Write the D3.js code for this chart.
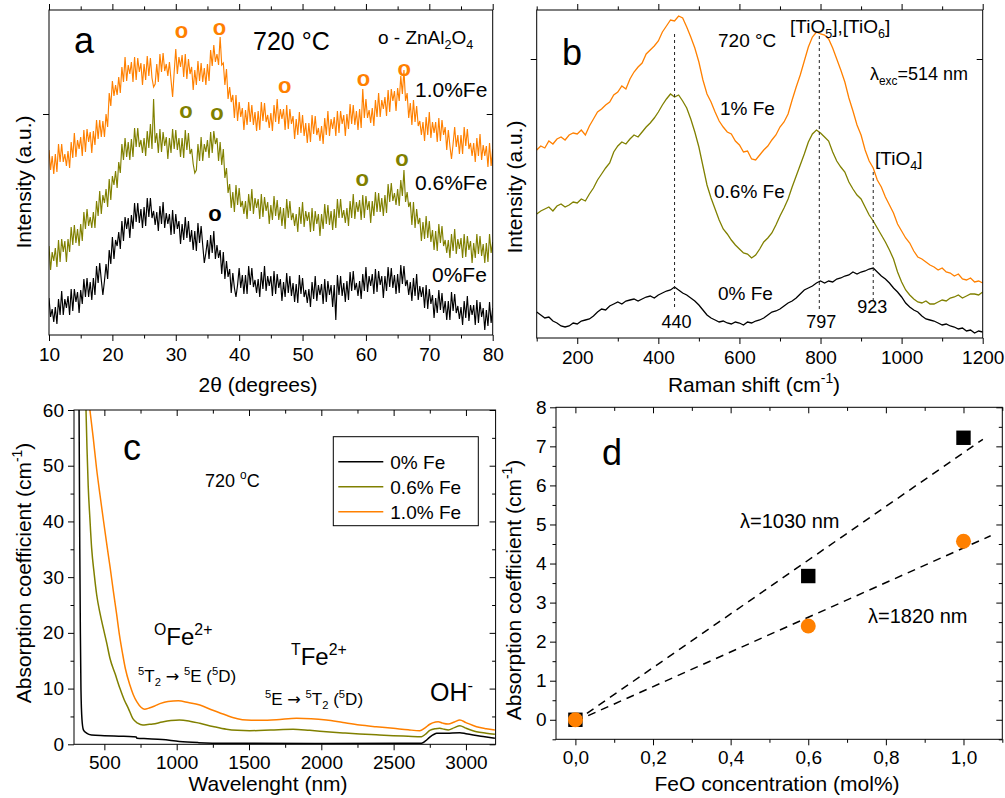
<!DOCTYPE html>
<html><head><meta charset="utf-8">
<script src="https://cdn.jsdelivr.net/npm/d3@7/dist/d3.min.js"></script>
<style>
body{margin:0;background:#fff;}
svg text{font-family:"Liberation Sans",Arial,Helvetica,sans-serif;}
</style></head><body>
<svg id="fig" width="1005" height="798"></svg>
<script>
// ---------------- DATA ----------------
// (a) XRD, 2theta grid 10..80 step 0.25 (one row per degree)
const xrdAngles = d3.range(10, 80.001, 0.25);
const xrdBlack = [
37,18,26,13, 28,11,36,20, 44,20,36,27, 39,20,46,24, 46,33,43,22,
45,31,56,38, 57,38,53,35, 57,40,69,52, 72,55,40,54, 71,56,85,71,
98,76,95,89, 103,86,114,94, 118,106,117,97, 120,106,132,113, 132,112,126,107,
128,109,137,118, 137,117,124,110, 123,104,129,111, 133,107,122,111, 121,100,125,101,
121,106,114,91, 111,95,118,97, 114,93,105,85, 104,84,112,92, 109,90,72,82,
95,76,100,82, 104,76,90,77, 85,61,83,56, 74,58,66,42, 62,47,38,50,
67,47,60,41, 60,41,69,50, 67,48,55,42, 56,38,63,46, 69,44,59,49,
59,39,64,41, 61,47,56,34, 53,38,62,42, 59,39,52,33, 51,32,60,41,
57,38,45,32, 46,28,53,36, 59,34,50,40, 51,31,56,33, 54,40,50,28,
50,15,60,40, 59,39,52,33, 54,35,63,44, 64,45,52,39, 54,36,61,44,
68,43,59,49, 61,41,66,43, 64,50,59,37, 59,44,68,48, 67,47,60,41,
61,42,70,51, 69,49,55,40, 53,34,57,39, 61,35,49,38, 48,27,50,26,
46,31,40,17, 37,22,45,25, 42,22,34,15, 34,15,43,24, 41,22,29,16,
28,10,34,17, 39,14,30,20, 30,10,35,12, 33,18,27,5, 25,9,33,12,
27];
const xrdOlive = [
89,65,83,74, 87,68,95,73, 96,83,94,73, 96,83,108,90, 110,92,106,89,
111,94,123,106, 126,109,118,107, 123,107,134,119, 144,121,140,132, 146,128,156,135,
159,150,164,147, 173,162,191,175, 197,178,193,175, 196,178,207,188, 207,188,195,182,
197,179,204,187, 211,186,236,192, 202,182,206,183, 203,189,198,176, 197,182,206,186,
205,185,197,178, 197,177,205,185, 202,181,186,171, 162,165,191,174, 198,174,191,183,
195,177,203,182, 204,191,197,174, 193,170,186,157, 167,142,151,127, 143,123,150,130,
147,128,134,121, 134,116,141,124, 146,121,137,127, 136,116,141,118, 138,124,133,111,
130,115,139,119, 135,115,128,109, 127,106,136,117, 134,115,122,109, 121,103,128,111,
133,108,124,114, 123,103,127,104, 124,111,121,99, 121,106,131,111, 130,110,124,105,
126,107,136,117, 136,117,125,112, 127,109,134,117, 141,116,133,123, 135,115,140,117,
139,125,134,112, 134,119,143,123, 142,123,137,119, 140,122,151,133, 152,134,142,130,
146,129,155,139, 165,133,143,128, 133,110,133,107, 126,111,117,94, 113,96,119,97,
114,93,105,85, 104,84,111,92, 109,89,95,82, 95,77,101,84, 106,81,96,86,
97,77,101,78, 99,85,94,72, 92,77,101,81, 99,79,91,72, 92,73,101,82,
93];
const xrdOrange = [
185,165,179,161, 181,163,191,173, 191,173,181,169, 184,167,193,177, 202,178,195,186,
198,179,205,183, 206,193,203,182, 204,190,215,196, 215,198,214,198, 221,208,242,229,
254,239,250,240, 258,242,268,253, 278,254,270,261, 273,253,278,255, 277,263,272,250,
271,255,279,259, 277,257,248,251, 271,253,281,263, 282,264,271,259, 273,255,238,263,
286,261,278,268, 280,258,281,256, 276,261,268,245, 265,250,274,254, 272,253,267,250,
271,254,285,269, 290,273,281,270, 298,270,272,250, 266,236,248,233, 240,217,240,214,
233,218,227,205, 225,210,233,213, 230,210,223,204, 224,205,233,214, 232,213,220,207,
222,204,230,213, 236,211,226,216, 226,205,230,206, 226,211,219,196, 216,200,223,202,
220,199,212,192, 212,193,220,201, 219,200,207,194, 209,191,217,200, 224,199,216,206,
218,199,224,202, 224,211,220,199, 221,206,231,211, 230,210,224,205, 226,207,246,217,
236,217,225,212, 227,209,235,218, 242,218,235,226, 238,219,245,223, 246,234,244,224,
247,234,259,241, 265,234,242,217, 232,210,235,213, 229,209,214,200, 213,194,218,200,
223,197,213,202, 213,193,217,194, 215,200,208,185, 205,189,176,191, 208,188,200,181,
200,181,208,189, 206,186,192,179, 192,173,197,179, 201,175,190,179, 189,168,192,169,
186];
const xrdLabels = ["0%Fe","0.6%Fe","1.0%Fe"];
const xrdMarkers = [ // [series, 2theta, intensity]
  [2,30.9,305],[2,36.9,308],[2,47.2,250],[2,59.6,257],[2,66.05,267],
  [1,31.6,225],[1,36.5,223],[1,59.4,157],[1,65.7,177],
  [0,36.2,122]];
const xrdXTicks = [10,20,30,40,50,60,70,80];
const xrdXMinor = [15,25,35,45,55,65,75];
const xrdYTicks = [221];

// (b) Raman, shift grid 100..1200 step 10 (one row per 100 cm-1)
const ramanShift = d3.range(100, 1200.001, 10);
const ramanBlack = [
26,23,20,21,17,15,12,11,12,15,
14,17,18,19,22,26,29,28,32,34,
36,34,37,38,39,37,39,41,42,40,
43,45,47,48,51,48,45,43,40,37,
33,28,23,20,18,16,17,15,14,16,
15,13,16,15,17,18,20,23,26,27,
29,32,35,37,40,44,48,50,52,55,
57,55,57,56,59,60,62,63,66,64,
66,67,69,70,66,62,59,55,50,46,
41,35,31,28,26,22,19,18,17,15,
13,14,12,11,9,10,7,8,5,7,
6];
const ramanOlive = [
124,127,129,131,127,132,134,131,133,136,
135,139,137,144,150,158,164,170,175,186,
192,196,194,199,203,201,206,211,215,220,
226,233,239,244,241,243,237,230,219,206,
191,172,153,140,129,118,109,104,98,93,
89,85,84,80,83,89,96,100,105,113,
122,130,139,151,162,173,184,196,204,208,
205,201,197,186,177,171,166,156,149,143,
139,131,123,117,110,103,96,88,79,66,
56,48,43,39,36,35,37,34,34,36,
38,37,40,41,43,40,42,44,44,43,
46];
const ramanOrange = [
188,192,190,197,194,199,201,198,203,205,
204,208,203,212,219,226,229,233,236,243,
246,252,249,259,266,271,275,284,288,292,
297,306,312,318,317,322,320,311,301,290,
276,258,244,236,226,217,211,206,204,197,
193,186,187,179,178,183,188,192,198,203,
211,216,224,238,251,263,277,291,301,306,
304,303,299,290,279,268,256,240,227,213,
203,188,177,170,158,151,141,133,125,114,
107,100,95,87,81,79,76,73,71,68,
70,66,65,62,64,59,58,60,56,57,
55];
const ramanPeakPos = [440, 797, 930];
const ramanPeakLabels = ["440","797","923"];
const ramanPeakLineTop = [304, 302, 166];
const ramanPeakLineBottom = [28, 27, 37];
const ramanXTicks = [200,400,600,800,1000,1200];
const ramanXMinor = [100,300,500,700,900,1100];
const ramanYTicks = [279];

// (c) absorption spectra [wavelength nm, coefficient cm-1]
const absBlack = [[325,60],[330,35],[334,20],[338,10],[345,4.5],[355,2.6],[377,2.0],[411,1.67],[500,1.55],[600,1.45],[700,1.35],[720,1.3],[725,1.1],[800,1.0],[900,0.85],[1019,0.5],[1150,0.3],[1344,0.18],[2000,0.15],[2600,0.17],[2693,0.2],[2720,0.6],[2750,1.3],[2780,1.8],[2797,1.97],[2870,2.0],[2958,2.08],[3000,1.9],[3050,1.67],[3130,1.35],[3200,1.07]];
const absOlive = [[373,60],[380,53],[388,46.5],[400,40.5],[412,35.2],[430,30.5],[447,26.8],[470,23.5],[493,20.8],[516,18.2],[539,15.4],[575,12.6],[608,10],[637,8],[665,6.5],[697,4.6],[730,3.8],[766,3.46],[800,3.55],[835,3.64],[900,4.0],[960,4.25],[1019,4.36],[1090,4.15],[1160,3.77],[1250,3.2],[1344,2.69],[1420,2.5],[1505,2.44],[1650,2.55],[1804,2.69],[1920,2.5],[2035,2.27],[2150,2.05],[2265,1.85],[2380,1.7],[2497,1.55],[2600,1.45],[2693,1.37],[2720,1.8],[2750,2.5],[2790,2.8],[2819,2.87],[2850,2.7],[2877,2.57],[2920,3.0],[2958,3.34],[3000,2.9],[3073,2.27],[3140,2.0],[3200,1.79]];
const absOrange = [[400,60],[423,55],[446,49.5],[470,44.7],[493,40.3],[516,36],[540,31.7],[562,27.5],[585,23.3],[605,19.5],[625,16.4],[645,13.6],[677,10.6],[700,8.9],[725,7.6],[755,6.6],[778,6.3],[810,6.5],[850,6.9],[884,7.3],[940,7.7],[1011,7.8],[1080,7.5],[1160,7.05],[1250,6.1],[1344,5.2],[1420,4.6],[1483,4.36],[1580,4.3],[1690,4.4],[1828,4.67],[1930,4.6],[2035,4.36],[2150,3.9],[2265,3.46],[2380,3.15],[2497,2.87],[2600,2.6],[2681,2.44],[2715,2.9],[2750,3.6],[2790,4.0],[2808,4.06],[2840,3.8],[2877,3.64],[2920,4.0],[2958,4.36],[3000,3.9],[3073,3.16],[3140,2.8],[3200,2.57]];
const absLegend = ["0% Fe","0.6% Fe","1.0% Fe"];
const absXTicks = [500,1000,1500,2000,2500,3000];
const absXMinor = [750,1250,1750,2250,2750];
const absYTicks = [0,10,20,30,40,50,60];
const absYMinor = [5,15,25,35,45,55];

// (d) absorption vs FeO
const feoConc = [0, 0.6, 1.0];
const abs1030 = [0, 3.68, 7.22];
const abs1820 = [0, 2.4, 4.57];
const fit1030 = [[0,-0.04],[1.05,7.18]];
const fit1820 = [[0,-0.04],[1.07,4.71]];
const feoXTicks = [0,0.2,0.4,0.6,0.8,1.0];
const feoXMinor = [0.1,0.3,0.5,0.7,0.9,1.1];
const feoYTicks = [0,1,2,3,4,5,6,7,8];
const feoYMinor = [-0.5,0.5,1.5,2.5,3.5,4.5,5.5,6.5,7.5];

// ---------------- DRAWING ----------------
const ORANGE="#ff8000", OLIVE="#808000", BLACK="#000000";
const COLS=[BLACK,OLIVE,ORANGE];
const FONT='"Liberation Sans",Arial,Helvetica,sans-serif';
const svg=d3.select("#fig");

function rich(g,x,y,parts,size,opt={}){
  const t=g.append("text").attr("x",x).attr("y",y).attr("font-size",size)
    .attr("text-anchor",opt.anchor||"start").attr("fill",opt.fill||"#000");
  if(opt.rotate) t.attr("transform",`rotate(-90,${x},${y})`);
  let cur=0;
  parts.forEach(p=>{
    const [s,k]=Array.isArray(p)?p:[p,null];
    const off=k==="sup"?-0.42*size:k==="sub"?0.26*size:0;
    const ts=t.append("tspan").attr("dy",off-cur).attr("font-size",(k==="sup"||k==="sub")?size*0.66:size).text(s);
    if(k==="sym") ts.attr("font-family",'"DejaVu Sans",sans-serif').attr("font-size",size*0.95);
    cur=off;
  });
  return t;
}

function panel(left,top,right,bottom,id){
  const g=svg.append("g").attr("transform",`translate(${left},${top})`);
  const w=right-left,h=bottom-top;
  svg.append("defs").append("clipPath").attr("id",id).append("rect").attr("width",w).attr("height",h);
  return {g,w,h,plot:g.append("g").attr("clip-path",`url(#${id})`)};
}

function axes(P,x,y,o){
  const g=P.g,w=P.w,h=P.h;
  const ax=g.append("g");
  ax.append("g").attr("transform",`translate(0,${h})`)
    .call(d3.axisBottom(x).tickValues(o.xMajor).tickFormat(o.xFmt||d3.format("d")).tickSize(6).tickPadding(o.xPad||7));
  if(o.xMinor) ax.append("g").attr("transform",`translate(0,${h})`).call(d3.axisBottom(x).tickValues(o.xMinor).tickFormat("").tickSize(3.5));
  const ts=o.topOut?6:-6;
  ax.append("g").call(d3.axisTop(x).tickValues(o.xMajor).tickFormat("").tickSize(ts));
  if(o.xMinor) ax.append("g").call(d3.axisTop(x).tickValues(o.xMinor).tickFormat("").tickSize(ts*0.6));
  ax.append("g").call(d3.axisLeft(y).tickValues(o.yMajor).tickFormat(o.yFmt||"").tickSize(6).tickPadding(o.yPad||4));
  if(o.yMinor) ax.append("g").call(d3.axisLeft(y).tickValues(o.yMinor).tickFormat("").tickSize(3.5));
  ax.append("g").attr("transform",`translate(${w},0)`).call(d3.axisRight(y).tickValues(o.yMajor).tickFormat("").tickSize(-6));
  if(o.yMinor) ax.append("g").attr("transform",`translate(${w},0)`).call(d3.axisRight(y).tickValues(o.yMinor).tickFormat("").tickSize(-3.5));
  ax.selectAll(".domain").remove();
  ax.selectAll("g").attr("font-family",FONT);
  ax.selectAll(".tick text").attr("font-size",19).attr("fill","#000");
  ax.selectAll(".tick line").attr("stroke","#000");
  g.append("rect").attr("width",w).attr("height",h).attr("fill","none").attr("stroke","#000").attr("stroke-width",1);
}

// ---- Panel a ----
(function(){
  const P=panel(49,10,492.7,335,"clipA");
  const x=d3.scaleLinear().domain([10,80]).range([0,P.w]);
  const y=d3.scaleLinear().domain([0,325]).range([P.h,0]);
  const line=d3.line().x((d,i)=>x(xrdAngles[i])).y(d=>y(d));
  [xrdBlack,xrdOlive,xrdOrange].forEach((s,k)=>{
    P.plot.append("path").datum(s).attr("d",line).attr("fill","none").attr("stroke",COLS[k]).attr("stroke-width",1.15);
  });
  xrdMarkers.forEach(m=>{
    P.g.append("text").attr("x",x(m[1])).attr("y",y(m[2])).attr("text-anchor","middle")
      .attr("dominant-baseline","central").attr("font-family",'"Liberation Serif","Times New Roman",serif')
      .attr("font-weight","bold").attr("font-size",22).attr("fill",COLS[m[0]]).text("o");
  });
  axes(P,x,y,{xMajor:xrdXTicks,xMinor:xrdXMinor,yMajor:xrdYTicks,topOut:true});
  const g=svg;
  rich(g,74,53,["a"],36);
  rich(g,253,50,["720 °C"],25);
  rich(g,378,44,["o - ZnAl",["2","sub"],"O",["4","sub"]],19);
  rich(g,415,97,[xrdLabels[2]],21);
  rich(g,415,190,[xrdLabels[1]],21);
  rich(g,432,282,[xrdLabels[0]],21);
  rich(g,258,392,["2θ (degrees)"],21,{anchor:"middle"});
  rich(g,31,182,["Intensity (a.u.)"],21,{anchor:"middle",rotate:true});
})();

// ---- Panel b ----
(function(){
  const P=panel(536.7,10,982.7,338,"clipB");
  const x=d3.scaleLinear().domain([100,1200]).range([0,P.w]);
  const y=d3.scaleLinear().domain([0,328]).range([P.h,0]);
  const line=d3.line().x((d,i)=>x(ramanShift[i])).y(d=>y(d));
  [ramanBlack,ramanOlive,ramanOrange].forEach((s,k)=>{
    P.plot.append("path").datum(s).attr("d",line).attr("fill","none").attr("stroke",COLS[k]).attr("stroke-width",1.3);
  });
  ramanPeakPos.forEach((p,i)=>{
    P.g.append("line").attr("x1",x(p)).attr("x2",x(p)).attr("y1",y(ramanPeakLineTop[i])).attr("y2",y(ramanPeakLineBottom[i]))
      .attr("stroke","#222").attr("stroke-width",1).attr("stroke-dasharray","3,3");
  });
  const lblY=[328,328,313];
  ramanPeakPos.forEach((p,i)=>{
    rich(svg,536.7+x(p)+(i===2?-1:2),lblY[i],[ramanPeakLabels[i]],18,{anchor:"middle"});
  });
  axes(P,x,y,{xMajor:ramanXTicks,xMinor:ramanXMinor,yMajor:ramanYTicks,topOut:true});
  const g=svg;
  rich(g,562,65,["b"],36);
  rich(g,718,47,["720 °C"],19);
  rich(g,790,33,["[TiO",["5","sub"],"],[TiO",["6","sub"],"]"],19);
  rich(g,870,80,["λ",["exc","sub"],"=514 nm"],18);
  rich(g,720,115,["1% Fe"],19);
  rich(g,714,198,["0.6% Fe"],19);
  rich(g,875,165,["[TiO",["4","sub"],"]"],19);
  rich(g,718,300,["0% Fe"],19);
  rich(g,754,392,["Raman shift (cm",["-1","sup"],")"],21,{anchor:"middle"});
  rich(g,522,187,["Intensity (a.u.)"],21,{anchor:"middle",rotate:true});
})();

// ---- Panel c ----
(function(){
  const P=panel(74,410,495.6,744.3,"clipC");
  const x=d3.scaleLinear().domain([290,3205]).range([0,P.w]);
  const y=d3.scaleLinear().domain([0,60]).range([P.h,0]);
  const line=d3.line().x(d=>x(d[0])).y(d=>y(d[1])).curve(d3.curveMonotoneX);
  [absBlack,absOlive,absOrange].forEach((s,k)=>{
    P.plot.append("path").datum(s).attr("d",line).attr("fill","none").attr("stroke",COLS[k]).attr("stroke-width",1.5);
  });
  axes(P,x,y,{xMajor:absXTicks,xMinor:absXMinor,yMajor:absYTicks,yMinor:absYMinor,yFmt:d3.format("d"),xPad:5,topOut:false});
  const L=svg.append("g").attr("transform","translate(333.3,436.7)");
  L.append("rect").attr("width",145).attr("height",89).attr("fill","#fff").attr("stroke","#000").attr("stroke-width",1);
  absLegend.forEach((t,i)=>{
    L.append("line").attr("x1",5).attr("x2",50).attr("y1",25+25*i).attr("y2",25+25*i).attr("stroke",COLS[i]).attr("stroke-width",1.5);
    rich(L,57,32+25*i,[t],19);
  });
  const g=svg;
  rich(g,123,460,["c"],36);
  rich(g,205,487,["720 ",["o","sup"],"C"],18);
  rich(g,154,645,[["O","sup"],"Fe",["2+","sup"]],24);
  rich(g,138,682,[["5","sup"],"T",["2","sub"]," ",["→","sym"]," ",["5","sup"],"E (",["5","sup"],"D)"],17);
  rich(g,291,665,[["T","sup"],"Fe",["2+","sup"]],24);
  rich(g,265,705,[["5","sup"],"E ",["→","sym"]," ",["5","sup"],"T",["2","sub"]," (",["5","sup"],"D)"],17);
  rich(g,430,701,["OH",["-","sup"]],25);
  rich(g,268,791,["Wavelenght (nm)"],21,{anchor:"middle"});
  rich(g,31,573,["Absorption coefficient (cm",["-1","sup"],")"],21,{anchor:"middle",rotate:true});
})();

// ---- Panel d ----
(function(){
  const P=panel(556,407.3,1002.3,739.3,"clipD");
  const x=d3.scaleLinear().domain([-0.05,1.1]).range([0,P.w]);
  const y=d3.scaleLinear().domain([-0.5,8]).range([P.h,0]);
  const line=d3.line().x(d=>x(d[0])).y(d=>y(d[1]));
  [fit1030,fit1820].forEach(f=>{
    P.plot.append("path").datum(f).attr("d",line).attr("fill","none").attr("stroke","#000")
      .attr("stroke-width",1.5).attr("stroke-dasharray","8,6");
  });
  P.plot.selectAll(".sq").data(feoConc).enter().append("rect")
    .attr("x",(d)=>x(d)-7.2).attr("y",(d,i)=>y(abs1030[i])-7.2).attr("width",14.4).attr("height",14.4).attr("fill","#000");
  P.plot.selectAll(".ci").data(feoConc).enter().append("circle")
    .attr("cx",d=>x(d)).attr("cy",(d,i)=>y(abs1820[i])).attr("r",7.5).attr("fill",ORANGE);
  axes(P,x,y,{xMajor:feoXTicks,xMinor:feoXMinor,yMajor:feoYTicks,yMinor:feoYMinor,
    xFmt:d=>d3.format(".1f")(d).replace(".",","),yFmt:d3.format("d"),xPad:5,yPad:3.5,topOut:false});
  const g=svg;
  rich(g,602,465,["d"],36);
  rich(g,740,528,["λ=1030 nm"],20);
  rich(g,868,623,["λ=1820 nm"],20);
  rich(g,777,791,["FeO concentration (mol%)"],21,{anchor:"middle"});
  rich(g,521,590,["Absorption coefficient (cm",["-1","sup"],")"],21,{anchor:"middle",rotate:true});
})();
</script>
</body></html>
